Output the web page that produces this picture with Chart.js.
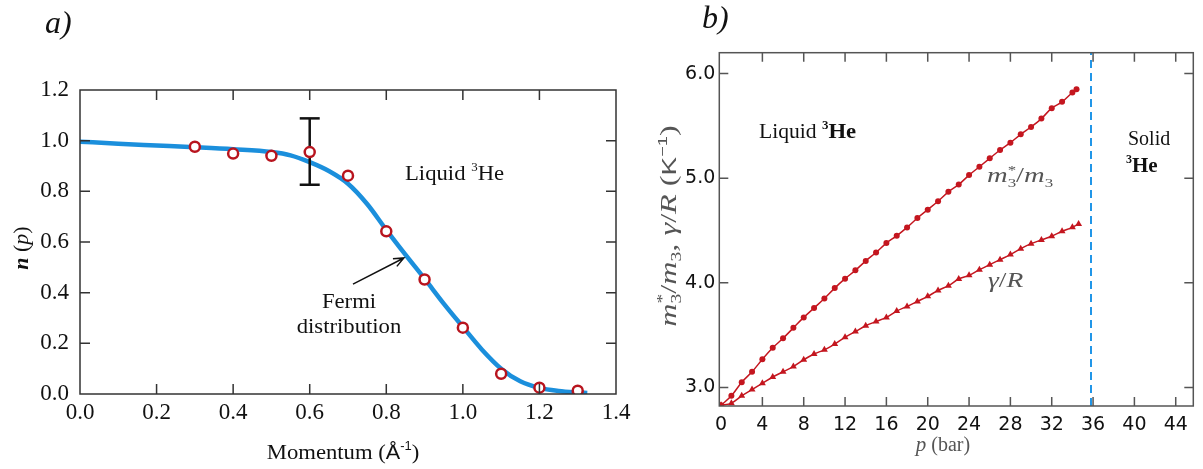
<!DOCTYPE html>
<html>
<head>
<meta charset="utf-8">
<script src="https://cdn.jsdelivr.net/npm/chart.js@4/dist/chart.umd.min.js"></script>
<style>
html, body { margin: 0; padding: 0; background: #fff; }
#wrap { position: relative; width: 1203px; height: 469px; overflow: hidden; }
canvas { position: absolute; top: 0; }
#chartA { left: 0; }
#chartB { left: 640px; }
</style>
</head>
<body>
<div id="wrap">
  <canvas id="chartA" width="640" height="469"></canvas>
  <canvas id="chartB" width="563" height="469"></canvas>
</div>
<script>
// ---- panel a) momentum distribution ----
const momentum   = [0.3, 0.4, 0.5, 0.6, 0.7, 0.8, 0.9, 1.0, 1.1, 1.2, 1.3];
const occupation = [0.976, 0.949, 0.940, 0.955, 0.862, 0.642, 0.452, 0.262, 0.080, 0.025, 0.013];
const errP = [0.6, 0.6];
const errN = [0.826, 1.088];
const fermiP = [0, 0.1, 0.2, 0.3, 0.4, 0.5, 0.55, 0.6, 0.65, 0.7, 0.75, 0.8, 0.85, 0.9, 0.95, 1.0, 1.05, 1.1, 1.15, 1.2, 1.25, 1.3, 1.325];
const fermiN = [0.996, 0.988, 0.981, 0.974, 0.966, 0.955, 0.942, 0.915, 0.88, 0.83, 0.75, 0.648, 0.55, 0.455, 0.357, 0.265, 0.175, 0.1, 0.05, 0.024, 0.012, 0.006, 0.004];
const xTicksA = [0, 0.2, 0.4, 0.6, 0.8, 1.0, 1.2, 1.4];
const yTicksA = [0, 0.2, 0.4, 0.6, 0.8, 1.0, 1.2];

// ---- panel b) effective mass and gamma/R vs pressure ----
const pressureM = [0,1,2,3,4,5,6,7,8,9,10,11,12,13,14,15,16,17,18,19,20,21,22,23,24,25,26,27,28,29,30,31,32,33,34,34.4];
const massRatio = [2.83,2.92,3.05,3.15,3.27,3.38,3.47,3.57,3.67,3.76,3.85,3.95,4.04,4.12,4.21,4.29,4.38,4.45,4.53,4.62,4.70,4.78,4.87,4.94,5.03,5.11,5.19,5.27,5.34,5.42,5.49,5.57,5.67,5.73,5.82,5.85];
const pressureG = [0,1,2,3,4,5,6,7,8,9,10,11,12,13,14,15,16,17,18,19,20,21,22,23,24,25,26,27,28,29,30,31,32,33,34,34.6];
const gammaR    = [2.83,2.85,2.92,2.98,3.04,3.10,3.15,3.20,3.265,3.32,3.36,3.415,3.48,3.535,3.59,3.63,3.67,3.73,3.775,3.823,3.871,3.928,3.973,4.037,4.072,4.126,4.174,4.222,4.27,4.327,4.375,4.41,4.445,4.493,4.531,4.563];
const meltP = [35.8, 35.8];
const meltY = [2.823, 6.2];
const xTicksB = [0, 4, 8, 12, 16, 20, 24, 28, 32, 36, 40, 44];
const yTicksB = [3, 4, 5, 6];

function pts(xs, ys) {
	return xs.map(function(v, i){ return {x: v, y: ys[i]}; });
}

// box around plot area with inward ticks on all four sides
const frameTicks = {
	id: 'frameTicks',
	afterDraw: function(chart, args, opts){
		const ctx = chart.ctx, a = chart.chartArea;
		const x = chart.scales.x, y = chart.scales.y;
		ctx.save();
		ctx.strokeStyle = opts.color;
		ctx.lineWidth = opts.width;
		ctx.strokeRect(a.left, a.top, a.right - a.left, a.bottom - a.top);
		ctx.beginPath();
		x.ticks.forEach(function(t){
			const px = x.getPixelForValue(t.value);
			if (px <= a.left + 2 || px >= a.right - 2) return;
			ctx.moveTo(px, a.bottom); ctx.lineTo(px, a.bottom - opts.len);
			ctx.moveTo(px, a.top); ctx.lineTo(px, a.top + opts.len);
		});
		y.ticks.forEach(function(t){
			const py = y.getPixelForValue(t.value);
			if (py <= a.top + 2 || py >= a.bottom - 2) return;
			ctx.moveTo(a.left, py); ctx.lineTo(a.left + opts.len, py);
			ctx.moveTo(a.right, py); ctx.lineTo(a.right - opts.len, py);
		});
		ctx.stroke();
		ctx.restore();
	}
};

// text made of several runs (italic, sub/superscript); stay:true keeps x for the next run
function drawRich(ctx, it){
	ctx.save();
	ctx.translate(it.x, it.y);
	if (it.rot) ctx.rotate(it.rot);
	ctx.scale(it.sx || 1, 1);
	ctx.textBaseline = 'alphabetic';
	ctx.textAlign = 'left';
	let w = 0;
	it.parts.forEach(function(p){ ctx.font = p.f; if (!p.stay) w += ctx.measureText(p.t).width; });
	let cx = it.align === 'center' ? -w / 2 : 0;
	it.parts.forEach(function(p){
		ctx.font = p.f;
		ctx.fillStyle = p.c || it.c || '#111';
		ctx.fillText(p.t, cx, p.dy || 0);
		if (!p.stay) cx += ctx.measureText(p.t).width;
	});
	ctx.restore();
}

// free text + arrow
const notes = {
	id: 'notes',
	afterDraw: function(chart, args, opts){
		const ctx = chart.ctx;
		(opts.items || []).forEach(function(it){ drawRich(ctx, it); });
		if (opts.arrow) {
			const x = chart.scales.x, y = chart.scales.y;
			const x0 = x.getPixelForValue(opts.arrow.from[0]), y0 = y.getPixelForValue(opts.arrow.from[1]);
			const x1 = x.getPixelForValue(opts.arrow.to[0]), y1 = y.getPixelForValue(opts.arrow.to[1]);
			const ang = Math.atan2(y1 - y0, x1 - x0), h = 11;
			ctx.save();
			ctx.strokeStyle = '#111';
			ctx.lineWidth = 1.5;
			ctx.beginPath();
			ctx.moveTo(x0, y0); ctx.lineTo(x1, y1);
			ctx.moveTo(x1 - h * Math.cos(ang - 0.4), y1 - h * Math.sin(ang - 0.4));
			ctx.lineTo(x1, y1);
			ctx.lineTo(x1 - h * Math.cos(ang + 0.4), y1 - h * Math.sin(ang + 0.4));
			ctx.stroke();
			ctx.restore();
		}
	}
};

const SERIF = '"Liberation Serif", "Times New Roman", serif';
const SANS = '"DejaVu Sans", sans-serif';

// panel a
new Chart(document.getElementById('chartA'), {
	type: 'scatter',
	data: {
		datasets: [{
			label: 'data',
			data: pts(momentum, occupation),
			pointRadius: 5,
			pointBorderWidth: 2.5,
			borderColor: '#b8141e',
			backgroundColor: '#fff',
			order: 0
		}, {
			label: 'error',
			data: pts(errP, errN),
			showLine: true,
			borderColor: '#111',
			borderWidth: 2.5,
			pointStyle: 'line',
			pointRadius: 10,
			pointBorderWidth: 2.5,
			pointBorderColor: '#111',
			order: 1
		}, {
			label: 'Fermi distribution',
			data: pts(fermiP, fermiN),
			showLine: true,
			borderColor: '#1b8fdc',
			borderWidth: 4.5,
			pointRadius: 0,
			cubicInterpolationMode: 'monotone',
			order: 2
		}]
	},
	options: {
		responsive: false,
		animation: false,
		events: [],
		layout: { padding: { left: 0, right: 24, top: 90, bottom: 0 } },
		plugins: {
			legend: { display: false },
			tooltip: { enabled: false },
			frameTicks: { color: '#333', width: 1.5, len: 10 },
			notes: {
				items: [
					{ x: 45, y: 33, parts: [{ t: 'a)', f: 'italic 32px ' + SERIF }] },
					{ x: 28, y: 248, rot: -Math.PI / 2, align: 'center', parts: [
						{ t: 'n', f: 'bold italic 22px ' + SERIF },
						{ t: ' (', f: '22px ' + SERIF },
						{ t: 'p', f: 'italic 22px ' + SERIF },
						{ t: ')', f: '22px ' + SERIF }] },
					{ x: 343, y: 459, align: 'center', sx: 1.08, parts: [
						{ t: 'Momentum (', f: '21px ' + SERIF },
						{ t: 'Å', f: '20px "Liberation Sans", sans-serif' },
						{ t: '-1', f: '12px "Liberation Sans", sans-serif', dy: -9 },
						{ t: ')', f: '21px ' + SERIF }] },
					{ x: 405, y: 180, sx: 1.08, parts: [
						{ t: 'Liquid ', f: '21px ' + SERIF },
						{ t: '3', f: '12px ' + SERIF, dy: -9 },
						{ t: 'He', f: '21px ' + SERIF }] },
					{ x: 349, y: 308, align: 'center', sx: 1.08, parts: [{ t: 'Fermi', f: '21px ' + SERIF }] },
					{ x: 349, y: 333, align: 'center', sx: 1.08, parts: [{ t: 'distribution', f: '21px ' + SERIF }] }
				],
				arrow: { from: [0.713, 0.434], to: [0.846, 0.537] }
			}
		},
		scales: {
			x: {
				type: 'linear', min: 0, max: 1.4,
				afterBuildTicks: function(s){ s.ticks = xTicksA.map(function(v){ return {value: v}; }); },
				afterFit: function(s){ s.height = 75; },
				grid: { display: false },
				border: { display: false },
				ticks: { font: { family: SERIF, size: 23 }, color: '#111', padding: -3, maxRotation: 0, autoSkip: false,
					callback: function(v){ return v.toFixed(1); } }
			},
			y: {
				type: 'linear', min: 0, max: 1.2,
				afterBuildTicks: function(s){ s.ticks = yTicksA.map(function(v){ return {value: v}; }); },
				afterFit: function(s){ s.width = 80; },
				grid: { display: false },
				border: { display: false },
				ticks: { font: { family: SERIF, size: 23 }, color: '#111', padding: 3, autoSkip: false,
					callback: function(v){ return v.toFixed(1); } }
			}
		}
	},
	plugins: [frameTicks, notes]
});

// panel b
const RED = '#c4161f';
new Chart(document.getElementById('chartB'), {
	type: 'scatter',
	data: {
		datasets: [{
			label: 'm3*/m3',
			data: pts(pressureM, massRatio),
			showLine: true,
			borderColor: RED,
			borderWidth: 1.5,
			pointRadius: 3,
			pointBorderWidth: 0,
			pointBackgroundColor: RED,
			cubicInterpolationMode: 'monotone'
		}, {
			label: 'gamma/R',
			data: pts(pressureG, gammaR),
			showLine: true,
			borderColor: RED,
			borderWidth: 1.5,
			pointStyle: 'triangle',
			pointRadius: 4,
			pointBorderWidth: 0,
			pointBackgroundColor: RED,
			cubicInterpolationMode: 'monotone'
		}, {
			label: 'melting',
			data: pts(meltP, meltY),
			showLine: true,
			borderColor: '#2196e8',
			borderWidth: 2,
			borderDash: [8, 5],
			pointRadius: 0
		}]
	},
	options: {
		responsive: false,
		animation: false,
		events: [],
		layout: { padding: { left: 0, right: 9.7, top: 52.7, bottom: 0 } },
		plugins: {
			legend: { display: false },
			tooltip: { enabled: false },
			frameTicks: { color: '#555', width: 1.5, len: 9 },
			notes: {
				items: [
					{ x: 62, y: 28, parts: [{ t: 'b)', f: 'italic 32px ' + SERIF }] },
					{ x: 36, y: 226, rot: -Math.PI / 2, align: 'center', sx: 1.4, c: '#555', parts: [
						{ t: 'm', f: 'italic 23px ' + SERIF },
						{ t: '*', f: '14px ' + SERIF, dy: -9, stay: true },
						{ t: '3', f: '14px ' + SERIF, dy: 5 },
						{ t: '/', f: '23px ' + SERIF },
						{ t: 'm', f: 'italic 23px ' + SERIF },
						{ t: '3', f: '14px ' + SERIF, dy: 5 },
						{ t: ', ', f: '23px ' + SERIF },
						{ t: 'γ', f: 'italic 23px ' + SERIF },
						{ t: '/', f: '23px ' + SERIF },
						{ t: 'R', f: 'italic 23px ' + SERIF },
						{ t: ' (', f: '23px ' + SERIF },
						{ t: 'K', f: '20px "Liberation Sans", sans-serif' },
						{ t: '−1', f: '13px "Liberation Sans", sans-serif', dy: -9 },
						{ t: ')', f: '23px ' + SERIF }] },
					{ x: 303, y: 451, align: 'center', c: '#555', parts: [
						{ t: 'p', f: 'italic 21px ' + SERIF },
						{ t: ' (bar)', f: '20px ' + SERIF }] },
					{ x: 119, y: 138, sx: 1.08, parts: [
						{ t: 'Liquid ', f: '20px ' + SERIF },
						{ t: '3', f: 'bold 12px ' + SERIF, dy: -9 },
						{ t: 'He', f: 'bold 21px ' + SERIF }] },
					{ x: 347, y: 182, c: '#555', sx: 1.3, parts: [
						{ t: 'm', f: 'italic 22px ' + SERIF },
						{ t: '*', f: '13px ' + SERIF, dy: -8, stay: true },
						{ t: '3', f: '13px ' + SERIF, dy: 5 },
						{ t: '/', f: '22px ' + SERIF },
						{ t: 'm', f: 'italic 22px ' + SERIF },
						{ t: '3', f: '13px ' + SERIF, dy: 5 }] },
					{ x: 348, y: 287, c: '#555', sx: 1.25, parts: [
						{ t: 'γ', f: 'italic 22px ' + SERIF },
						{ t: '/', f: '22px ' + SERIF },
						{ t: 'R', f: 'italic 22px ' + SERIF }] },
					{ x: 488, y: 145, parts: [{ t: 'Solid', f: '20px ' + SERIF }] },
					{ x: 486, y: 172, parts: [
						{ t: '3', f: 'bold 12px ' + SERIF, dy: -9 },
						{ t: 'He', f: 'bold 21px ' + SERIF }] }
				]
			}
		},
		scales: {
			x: {
				type: 'linear', min: -0.17, max: 45.7,
				afterBuildTicks: function(s){ s.ticks = xTicksB.map(function(v){ return {value: v}; }); },
				afterFit: function(s){ s.height = 63; },
				grid: { display: false },
				border: { display: false },
				ticks: { font: { family: SANS, size: 19 }, color: '#111', padding: 0, maxRotation: 0, autoSkip: false }
			},
			y: {
				type: 'linear', min: 2.823, max: 6.2,
				afterBuildTicks: function(s){ s.ticks = yTicksB.map(function(v){ return {value: v}; }); },
				afterFit: function(s){ s.width = 79.3; },
				grid: { display: false },
				border: { display: false },
				ticks: { font: { family: SANS, size: 19 }, color: '#111', padding: -4, autoSkip: false,
					callback: function(v){ return v.toFixed(1); } }
			}
		}
	},
	plugins: [frameTicks, notes]
});
</script>
</body>
</html>
